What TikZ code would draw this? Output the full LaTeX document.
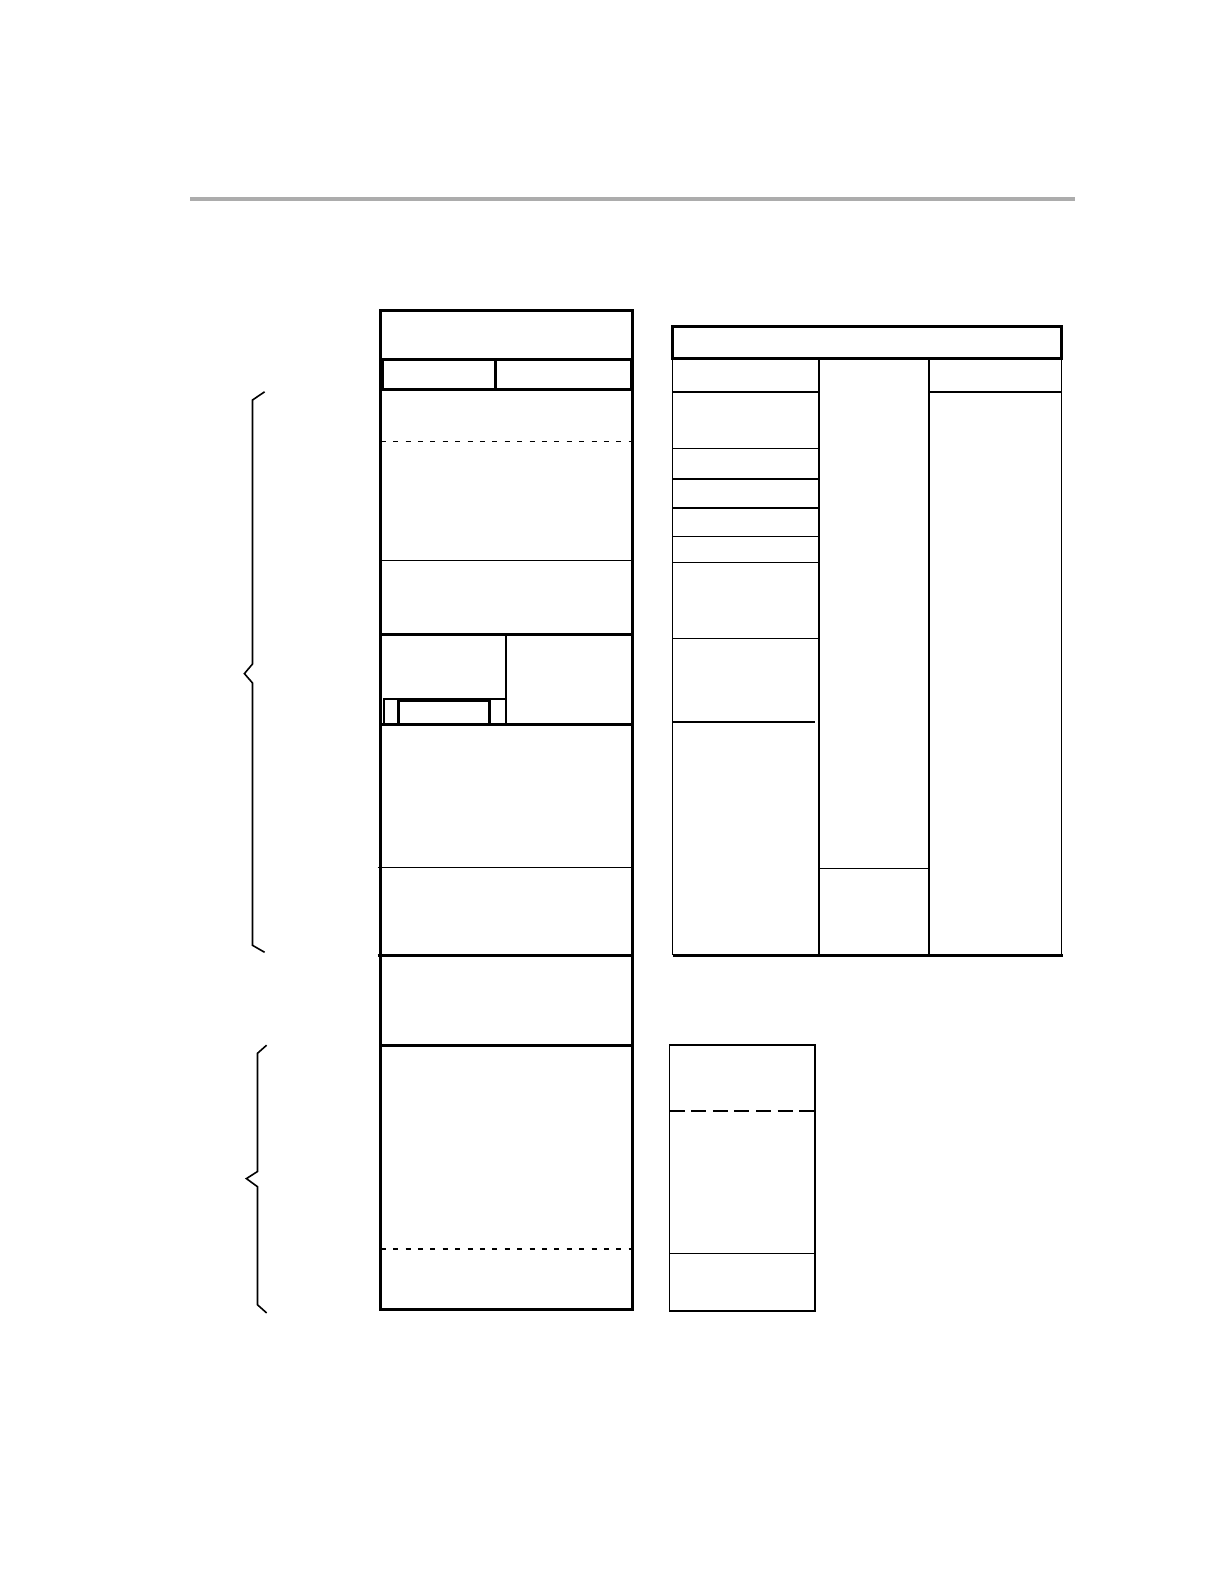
\documentclass[tikz,border=0pt]{standalone}
\usepackage{tikz}

\tikzset{
  heavy/.style={line width=1.5pt},
  light/.style={line width=0.8pt},
  shortdash/.style={line width=0.8pt, dash pattern=on 2.5pt off 3.7pt},
  longdash/.style={line width=0.8pt, dash pattern=on 7.5pt off 3.3pt},
  rule/.style={line width=2pt, gray!65},
  brace/.style={line width=0.8pt}
}

\begin{document}
\begin{tikzpicture}[x=0.5pt, y=-0.5pt]
        \useasboundingbox (0,0) rectangle (1224,1584);

        % header rule
        \draw[rule] (190,198.5) -- (1075,198.5);

        % main column: outer frame
        \draw[heavy] (380.7,310) rectangle (632.2,1309.8);
        \draw[heavy] (380.7,359.5) -- (632.2,359.5);
        \draw[heavy] (382.8,359.5) rectangle (631.2,389.8);
        \draw[heavy] (495.9,359.5) -- (495.9,389.8);

        % main column: upper part
        \draw[shortdash] (380.7,441.3) -- (632.2,441.3);
        \draw[light] (380.7,560.5) -- (632.2,560.5);
        \draw[heavy] (380.7,634.2) -- (632.2,634.2);
        \draw[light] (506,634.2) -- (506,724.1);
        \draw[light] (383.8,698.9) rectangle (506,724.1);
        \draw[heavy] (398.9,700.9) rectangle (489.8,724.1);
        \draw[heavy] (380.7,724.1) -- (632.2,724.1);
        \draw[light] (377.7,867.5) -- (632.2,867.5);
        \draw[heavy] (377.7,955.4) -- (632.2,955.4);

        % main column: lower part
        \draw[heavy] (380.7,1045.2) -- (632.2,1045.2);
        \draw[shortdash] (380.7,1249.2) -- (632.2,1249.2);

        % right table: head
        \draw[heavy] (672.6,326.2) rectangle (1061.4,358.5);
        \draw[light] (672.6,358.5) -- (672.6,955.4);
        \draw[light] (819,358.5) -- (819,955.4);
        \draw[light] (929.1,358.5) -- (929.1,955.4);
        \draw[light] (1061.4,358.5) -- (1061.4,955.4);
        \draw[heavy] (672.6,955.4) -- (1063.4,955.4);

        % right table: first column rows
        \foreach \y in {391.8, 448.4, 478.7, 508, 536.3, 562.5, 638.3} {
            \draw[light] (672.6,\y) -- (819,\y);
        }
        \draw[light] (672.6,722.1) -- (815,722.1);

        % right table: second and third columns
        \draw[light] (819,868.5) -- (929.1,868.5);
        \draw[light] (929.1,391.8) -- (1061.4,391.8);

        % lower right box
        \draw[light] (669.6,1045.2) rectangle (815,1310.8);
        \draw[longdash] (669.6,1110.9) -- (815,1110.9);
        \draw[light] (669.6,1253.3) -- (815,1253.3);

        % braces
        \draw[brace] (264.6,391.8) -- (252.5,400) -- (252.5,664) -- (244.4,673.6)
            -- (252.5,683) -- (252.5,945.3) -- (264.6,952.3);
        \draw[brace] (266.6,1045.2) -- (257.5,1053.3) -- (257.5,1171.5) -- (246.4,1178.6)
            -- (257.5,1186.7) -- (257.5,1304.8) -- (266.6,1312.9);

    \end{tikzpicture}
\end{document}
